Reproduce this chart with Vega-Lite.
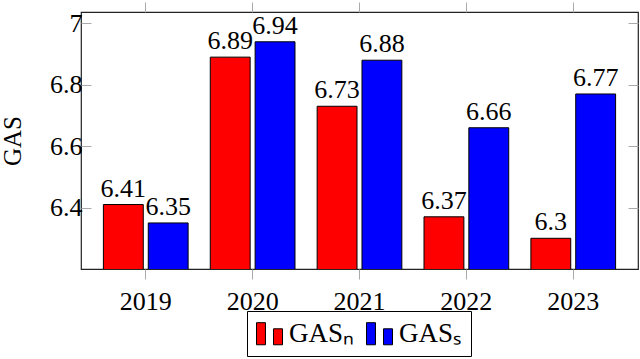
{
  "$schema": "https://vega.github.io/schema/vega-lite/v6.json",
  "width": 557,
  "height": 257,
  "autosize": {"type": "none"},
  "padding": {"left": 81, "top": 12, "right": 2, "bottom": 90},
  "config": {
    "font": "Times New Roman",
    "view": {"stroke": "#222222", "strokeWidth": 1.2},
    "text": {"font": "Times New Roman"},
    "legend": {"labelFont": "Times New Roman"},
    "axis": {"grid": false, "domain": false, "labelFont": "Times New Roman", "titleFont": "Times New Roman", "labelColor": "black", "titleColor": "black", "tickColor": "#aaaaaa", "tickWidth": 1}
  },
  "data": {
    "values": [
      {"year": "2019", "series": "N", "value": 6.41},
      {"year": "2019", "series": "S", "value": 6.35},
      {"year": "2020", "series": "N", "value": 6.89},
      {"year": "2020", "series": "S", "value": 6.94},
      {"year": "2021", "series": "N", "value": 6.73},
      {"year": "2021", "series": "S", "value": 6.88},
      {"year": "2022", "series": "N", "value": 6.37},
      {"year": "2022", "series": "S", "value": 6.66},
      {"year": "2023", "series": "N", "value": 6.3},
      {"year": "2023", "series": "S", "value": 6.77}
    ]
  },
  "encoding": {
    "x": {"field": "year", "type": "nominal", "scale": {"paddingInner": 0, "paddingOuter": 0.106}},
    "xOffset": {"field": "series", "type": "nominal", "scale": {"domain": ["N", "S"], "paddingInner": 0.111, "paddingOuter": 0.247}},
    "y": {"field": "value", "type": "quantitative", "scale": {"domain": [6.2, 7.037], "nice": false, "zero": false}}
  },
  "layer": [
    {
      "mark": {"type": "bar", "stroke": "black", "strokeWidth": 1, "clip": true},
      "encoding": {
        "x": {"field": "year", "type": "nominal", "scale": {"paddingInner": 0, "paddingOuter": 0.106}, "axis": {"orient": "bottom", "title": null, "labelAngle": 0, "labelFontSize": 26, "tickSize": 10, "labelPadding": 9, "labelBaseline": "top"}},
        "y": {"field": "value", "type": "quantitative", "scale": {"domain": [6.2, 7.037], "nice": false, "zero": false}, "axis": {"orient": "left", "title": "GAS", "titleFontSize": 25, "titleFontWeight": "normal", "titlePadding": 24, "labelFontSize": 26, "values": [6.4, 6.6, 6.8, 7], "format": ".1~f", "tickSize": -10, "labelPadding": 9}},
        "color": {
          "field": "series", "type": "nominal",
          "scale": {"domain": ["N", "S"], "range": ["#ff0000", "#0000ff"]},
          "legend": {
            "orient": "none", "legendX": 166, "legendY": 299, "direction": "horizontal", "title": null,
            "labelExpr": "datum.label == 'N' ? 'GASₙ' : 'GASₛ'",
            "labelFont": "Times New Roman", "labelFontSize": 27, "labelColor": "black", "labelLimit": 300,
            "symbolType": "M-1,-0.85H-0.31V0.85H-1Z M0.31,-0.38H1V0.85H0.31Z",
            "symbolSize": 676, "symbolStrokeColor": "black", "symbolStrokeWidth": 1, "symbolOpacity": 1,
            "labelOffset": 6, "columnPadding": 9, "padding": 9,
            "strokeColor": "black"
          }
        }
      }
    },
    {
      "mark": {"type": "text", "fontSize": 26, "baseline": "alphabetic", "dy": -8, "color": "black", "font": "Times New Roman"},
      "encoding": {
        "x": {"field": "year", "type": "nominal", "scale": {"paddingInner": 0, "paddingOuter": 0.106}, "axis": {"orient": "top", "title": null, "labels": false, "tickSize": 10}},
        "y": {"field": "value", "type": "quantitative", "scale": {"domain": [6.2, 7.037], "nice": false, "zero": false}, "axis": {"orient": "right", "title": null, "labels": false, "values": [6.4, 6.6, 6.8, 7], "tickSize": -10}},
        "text": {"field": "value", "type": "quantitative", "format": ".2~f"}
      }
    }
  ],
  "resolve": {"axis": {"x": "independent", "y": "independent"}}
}
